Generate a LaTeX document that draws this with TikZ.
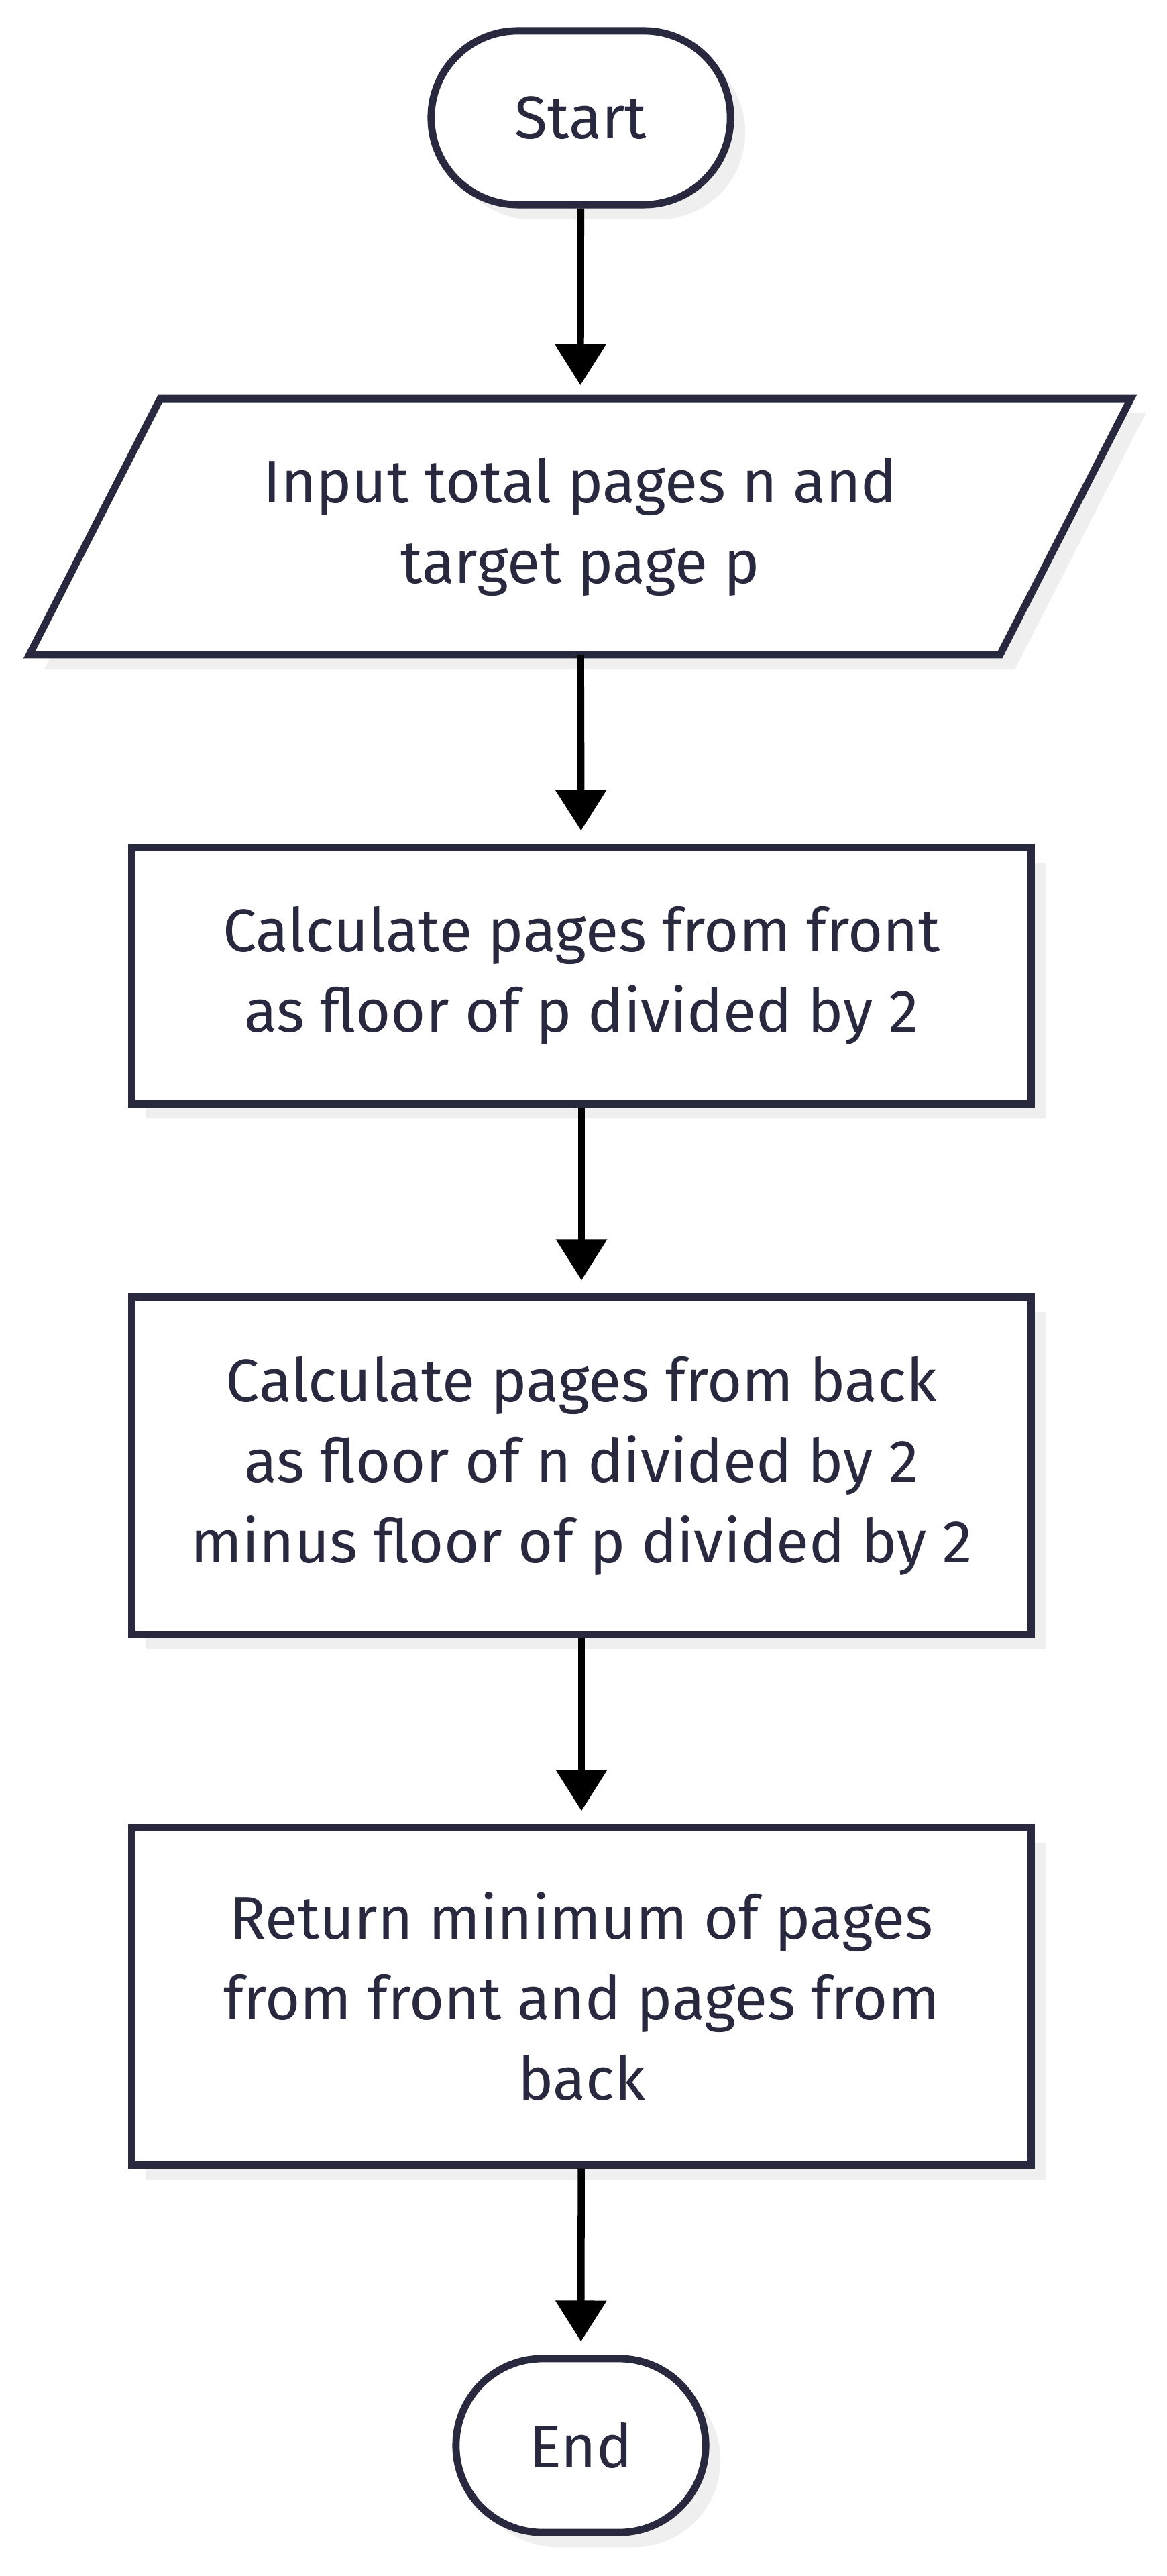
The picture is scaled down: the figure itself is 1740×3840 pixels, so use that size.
\documentclass[tikz,border=0pt]{standalone}
\usepackage{fontspec}
\setmainfont{Fira Sans}
\usepackage{xcolor}
\usepackage{tikz}
\usetikzlibrary{arrows.meta, calc, shadows, backgrounds}

\definecolor{linecol}{HTML}{28283E}
\definecolor{shadecol}{HTML}{EFEFEF}

\tikzset{
  label text/.style={text=linecol, align=center, inner sep=0pt, font=\fontsize{25.5}{34.1}\selectfont},
  outline/.style={draw=linecol, line width=3.1pt, fill=white,
    drop shadow={shadow xshift=0.22cm, shadow yshift=-0.22cm, fill=shadecol, opacity=1}},
  base/.style={label text, outline},
  terminal/.style={base, rectangle, rounded corners=1.29cm, minimum height=2.59cm},
  io/.style={label text, rectangle, minimum width=14.45cm, minimum height=3.8cm},
  process/.style={base, rectangle, minimum width=13.41cm},
  flow/.style={-{Triangle[width=0.74cm, length=0.61cm]}, line width=3pt, black, shorten >=0.2cm}
}

\begin{document}
\begin{tikzpicture}[x=0.01cm, y=-0.01cm]
    \useasboundingbox (0, 0) rectangle (1740, 3840);

    % start and input
    \node[terminal, minimum width=4.46cm] (start) at (866, 175.5) {Start};
    \node[io] (input) at (865, 785) {Input total pages n and\\target page p};

    % steps
    \node[process, minimum height=3.81cm] (front) at (867, 1454.5) {Calculate pages from front\\as floor of p divided by 2};
    \node[process, minimum height=5.02cm] (back) at (867, 2185) {Calculate pages from back\\as floor of n divided by 2\\minus floor of p divided by 2};
    \node[process, minimum height=5.02cm] (ret) at (867, 2976) {Return minimum of pages\\from front and pages from\\back};

    % end
    \node[terminal, minimum width=3.72cm] (end) at (866, 3645.5) {End};

    % input parallelogram
    \begin{scope}[on background layer]
        \path[outline] ($(input.north west)+(97.5, 0)$) -- ($(input.north east)+(97.5, 0)$)
            -- ($(input.south east)+(-97.5, 0)$) -- ($(input.south west)+(-97.5, 0)$) -- cycle;
    \end{scope}

    % arrows
    \draw[flow] (start) -- (input);
    \draw[flow] (input) -- (front);
    \draw[flow] (front) -- (back);
    \draw[flow] (back) -- (ret);
    \draw[flow] (ret) -- (end);
\end{tikzpicture}
\end{document}
